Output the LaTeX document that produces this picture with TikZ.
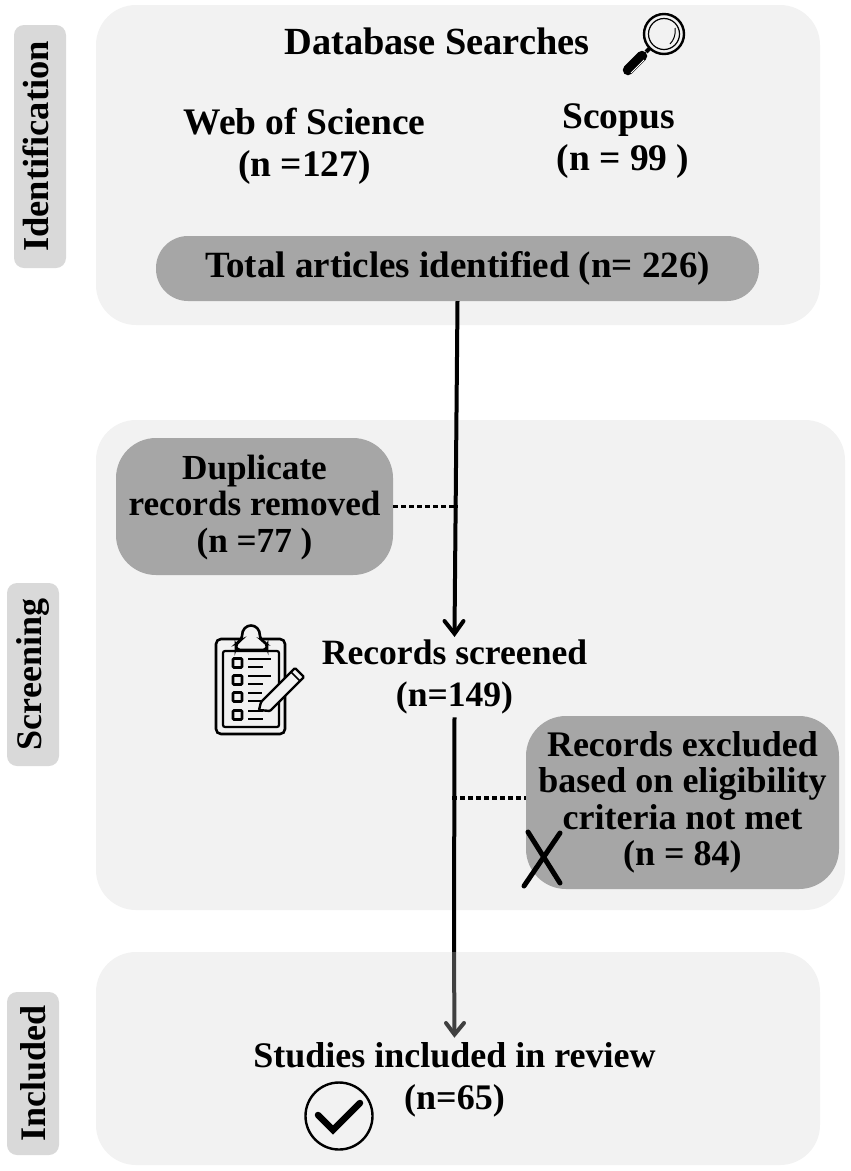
\documentclass[tikz,border=0pt]{standalone}
\usepackage{fontspec}
\setmainfont{Liberation Serif}
\usetikzlibrary{positioning}
\definecolor{panelgray}{HTML}{F2F2F2}
\definecolor{tabgray}{HTML}{D9D9D9}
\definecolor{boxgray}{HTML}{A6A6A6}
\definecolor{lowgray}{HTML}{404040}
\tikzset{
    panel/.style={fill=panelgray,rounded corners=40pt},
    tablabel/.style={fill=tabgray,rounded corners=10pt,rotate=90,minimum height=52pt,inner sep=0pt,font=\fontsize{36}{36}\selectfont\bfseries},
    label/.style={align=center,inner sep=0pt,font=\fontsize{36}{42}\selectfont\bfseries},
    greybox/.style={fill=boxgray,align=center,inner sep=0pt,font=\fontsize{36}{36.5}\selectfont\bfseries},
    mainline/.style={line width=4pt},
    dotline/.style={line width=3.5pt,dash pattern=on 4.5pt off 3.5pt},
    tip/.style={line width=4pt,line cap=round,line join=miter},
}
\begin{document}
\begin{tikzpicture}[x=1pt,y=-1pt]
    \useasboundingbox (0,0) rectangle (851,1171);
    % background panels
    \fill[panel] (96,5) rectangle (820,325);
    \fill[panel] (96,420) rectangle (845,910);
    \fill[panel] (96,952) rectangle (820,1165);
    % stage tabs
    \node[tablabel,minimum width=243pt,text height=20pt,text depth=4pt,font=\fontsize{36.5}{36}\selectfont\bfseries] (identification) at (40,146.5) {Identification};
    \node[tablabel,minimum width=183pt] (screening) at (33,674.5) {Screening};
    \node[tablabel,minimum width=163pt] (included) at (33,1073.5) {Included};
    % texts
    \node[label,font=\fontsize{38.4}{42}\selectfont\bfseries] (database) at (437,41) {Database Searches};
    \node[label,font=\fontsize{37.5}{42}\selectfont\bfseries] (wos) at (304.5,146) {Web of Science\\(n =127)};
    \node[label,font=\fontsize{37.5}{42}\selectfont\bfseries] (scopus) at (623,141) {Scopus\kern9pt\\(n = 99 )};
    \node[greybox,rounded corners=32pt,minimum width=603pt,minimum height=65pt,font=\fontsize{37}{37}\selectfont\bfseries] (total) at (457.5,268.5) {\raisebox{2pt}{Total articles identified (n= 226)}};
    \node[greybox,rounded corners=40pt,minimum width=277pt,minimum height=137pt,font=\fontsize{35.2}{36.5}\selectfont\bfseries] (duplicate) at (254.5,506.5) {\rule{0pt}{26pt}Duplicate\\records removed\\(n =77 )};
    \node[label,font=\fontsize{35.6}{42}\selectfont\bfseries] (screened) at (454.5,677) {Records screened\\(n=149)};
    \node[greybox,rounded corners=40pt,minimum width=313pt,minimum height=173pt] (excluded) at (682.5,802.5) {Records excluded\\based on eligibility\\criteria not met\\(n = 84)};
    \node[label] (studies) at (454.5,1080) {Studies included in review\\(n=65)};
    % connectors
    \coordinate (gapjoin) at (452,798);
    \coordinate (shade) at (454,952);
    \draw[mainline] (total.south) -- ([yshift=6pt]screened.north);
    \draw[tip] (444.5,621) -- ([yshift=6pt]screened.north) -- (463.5,621);
    \draw[mainline] ([yshift=-3pt]screened.south) -- (shade);
    \draw[mainline,lowgray] (shade) -- ([yshift=8pt]studies.north);
    \draw[tip,lowgray] (446,1023) -- ([yshift=8pt]studies.north) -- (464,1023);
    \draw[dotline] (duplicate.east) -- (duplicate.east -| total.south);
    \draw[dotline] (gapjoin) -- (excluded.west |- gapjoin);
    % magnifier
    \begin{scope}[shift={(664,34)}]
        \draw[line width=2.4pt] (0,0) circle (20pt);
        \draw[line width=1.2pt] (0,0) circle (15.5pt);
        \draw[line width=1pt] (11,-6) .. controls (12,0) and (10,6) .. (6,10);
        \draw[line width=4pt] (-14,14) -- (-18,18);
        \draw[line width=10.5pt,line cap=round] (-22,22) -- (-36,36);
        \draw[white,line width=1pt] (-20,26) -- (-33,39);
    \end{scope}
    % clipboard
    \draw[line width=2.6pt,rounded corners=5pt] (216,639) rectangle (285,734);
    \draw[line width=2.2pt,rounded corners=2pt] (223,651) rectangle (279,727);
    \draw[line width=2.6pt,fill=panelgray,rounded corners=4pt] (236,650) -- (236,643) -- (242,640)
        .. controls (242,622) and (260,622) .. (260,640) -- (267,643) -- (267,650) -- cycle;
    \foreach \y/\w in {663/271,680/271,697/262,715/263} {
        \draw[line width=2.6pt,rounded corners=1pt] (233,\y-4.5) rectangle (242,\y+4.5);
        \draw[line width=2.6pt] (248,\y-4) -- (\w,\y-4);
        \draw[line width=2.6pt] (248,\y+4) -- (263,\y+4);
    }
    \draw[line width=2.4pt,fill=panelgray,rounded corners=1pt] (259,710) -- (261,702) -- (295,668) -- (304,677) -- (270,711) -- cycle;
    \draw[line width=1.6pt] (291,672) -- (300,681);
    % cross
    \draw[line width=5pt,line cap=round] (528,832) -- (560,883);
    \draw[line width=5pt,line cap=round] (560,833) -- (524,886);
    % check mark
    \draw[line width=2.4pt] (339,1116) circle (33.5pt);
    \draw[line width=6.5pt,line cap=round,line join=miter] (318,1115) -- (333,1130) -- (360,1103);
\end{tikzpicture}
\end{document}
